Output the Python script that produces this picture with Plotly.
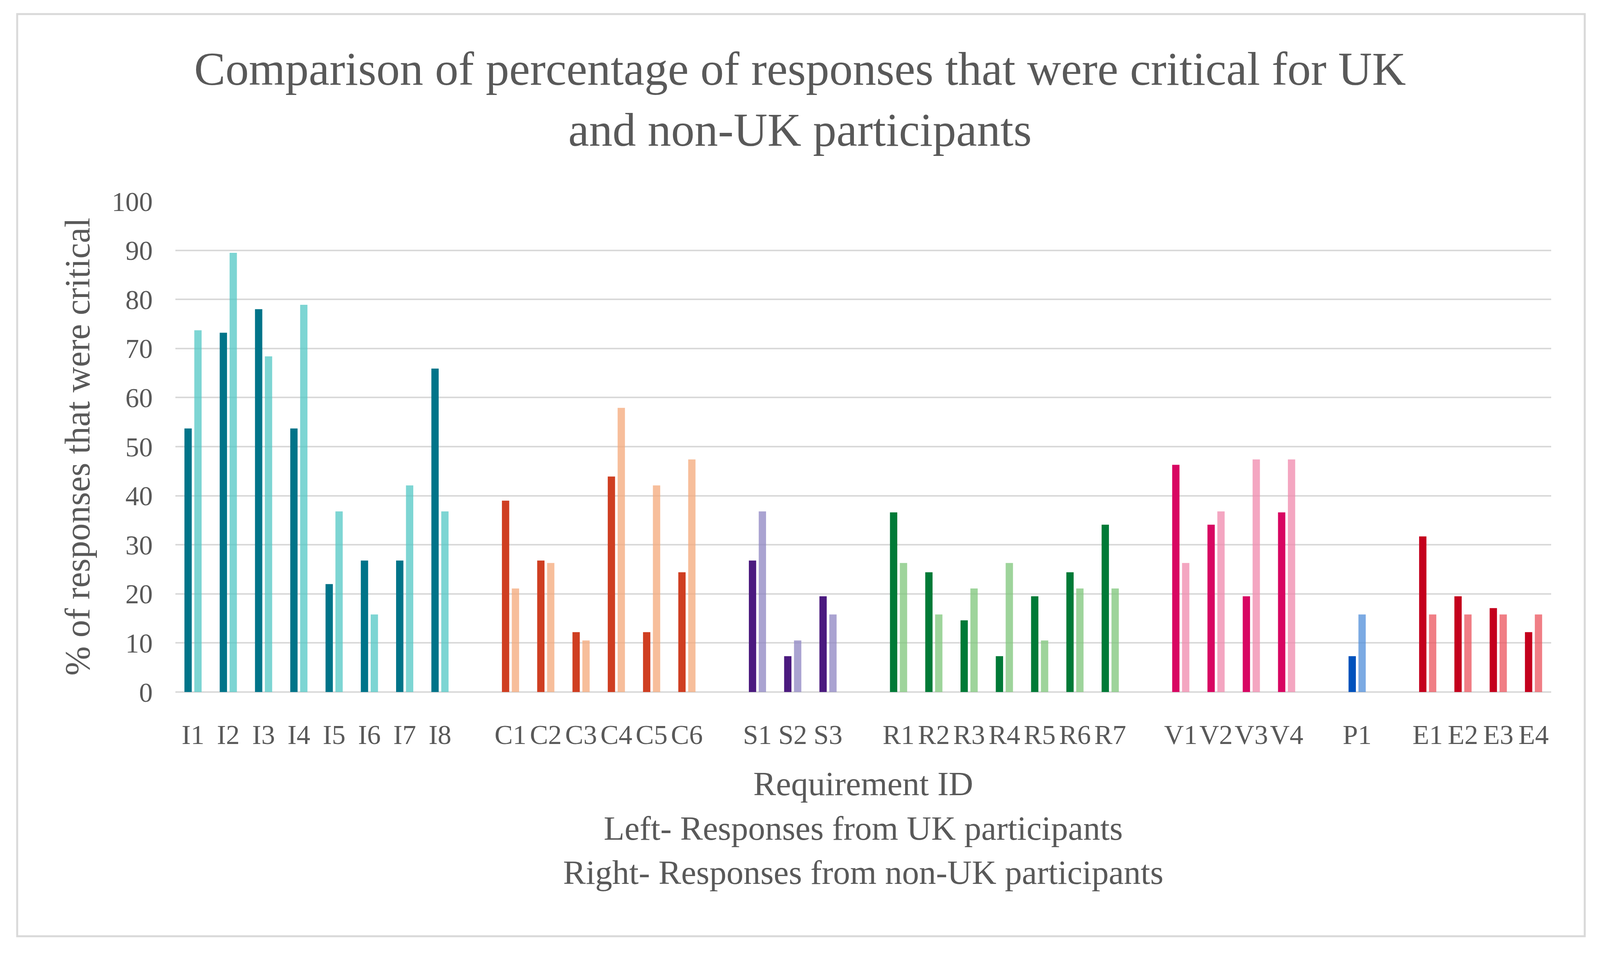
import plotly.graph_objects as go

# ---- data ----
requirement_ids = [
    ["I1", "I2", "I3", "I4", "I5", "I6", "I7", "I8"],
    ["C1", "C2", "C3", "C4", "C5", "C6"],
    ["S1", "S2", "S3"],
    ["R1", "R2", "R3", "R4", "R5", "R6", "R7"],
    ["V1", "V2", "V3", "V4"],
    ["P1"],
    ["E1", "E2", "E3", "E4"],
]
uk_values = [
    [53.7, 73.2, 78.0, 53.7, 22.0, 26.8, 26.8, 65.9],
    [39.0, 26.8, 12.2, 43.9, 12.2, 24.4],
    [26.8, 7.3, 19.5],
    [36.6, 24.4, 14.6, 7.3, 19.5, 24.4, 34.1],
    [46.3, 34.1, 19.5, 36.6],
    [7.3],
    [31.7, 19.5, 17.1, 12.2],
]
non_uk_values = [
    [73.7, 89.5, 68.4, 78.9, 36.8, 15.8, 42.1, 36.8],
    [21.1, 26.3, 10.5, 57.9, 42.1, 47.4],
    [36.8, 10.5, 15.8],
    [26.3, 15.8, 21.1, 26.3, 10.5, 21.1, 21.1],
    [26.3, 36.8, 47.4, 47.4],
    [15.8],
    [15.8, 15.8, 15.8, 15.8],
]
uk_colors = ["#007489", "#CF3E21", "#4B1A7F", "#007A37", "#D80662", "#0052BC", "#C4001D"]
non_uk_colors = [
    "rgba(82,199,196,0.75)", "rgba(244,168,122,0.75)", "rgba(142,132,194,0.75)",
    "rgba(126,198,121,0.75)", "rgba(240,136,172,0.75)", "rgba(79,142,218,0.75)",
    "rgba(235,83,92,0.75)",
]
y_ticks = [0, 10, 20, 30, 40, 50, 60, 70, 80, 90, 100]

# ---- build category axis with a blank slot between groups ----
x_cats, uk_y, non_y, uk_c, non_c = [], [], [], [], []
for g, (ids, u, n) in enumerate(zip(requirement_ids, uk_values, non_uk_values)):
    if g > 0:
        x_cats.append(" " * g)
        uk_y.append(None)
        non_y.append(None)
        uk_c.append(uk_colors[g])
        non_c.append(non_uk_colors[g])
    for rid, a, b in zip(ids, u, n):
        x_cats.append(rid)
        uk_y.append(a)
        non_y.append(b)
        uk_c.append(uk_colors[g])
        non_c.append(non_uk_colors[g])

FONT = "Liberation Serif, serif"
GREY = "#595959"

fig = go.Figure()
fig.add_trace(go.Bar(x=x_cats, y=uk_y, marker=dict(color=uk_c, line=dict(width=0)),
                     name="UK participants"))
fig.add_trace(go.Bar(x=x_cats, y=non_y, marker=dict(color=non_c, line=dict(width=0)),
                     name="non-UK participants"))

fig.update_layout(
    width=4080, height=2428,
    paper_bgcolor="white", plot_bgcolor="white",
    margin=dict(l=441, r=117, t=507, b=665),
    barmode="group", bargap=0.44, bargroupgap=0.26,
    showlegend=False,
    font=dict(family=FONT, color=GREY),
    title=dict(
        text="Comparison of percentage of responses that were critical for UK<br>and non-UK participants",
        x=0.5, xanchor="center", y=0.914, yanchor="middle",
        font=dict(family=FONT, size=120, color=GREY),
    ),
    xaxis=dict(
        type="category", categoryorder="array", categoryarray=x_cats,
        showgrid=False, showline=False, ticks="", zeroline=False,
        tickangle=0,
        tickfont=dict(family=FONT, size=70, color=GREY),
        ticklabelstandoff=62,
        automargin=False,
        title=dict(
            text="Requirement ID<br>Left- Responses from UK participants<br>Right- Responses from non-UK participants",
            font=dict(family=FONT, size=87, color=GREY), standoff=56,
        ),
    ),
    yaxis=dict(
        range=[0, 100], tickvals=y_ticks,
        showgrid=True, gridcolor="#D9D9D9", gridwidth=4,
        zeroline=True, zerolinecolor="#D9D9D9", zerolinewidth=4,
        showline=False, ticks="",
        tickfont=dict(family=FONT, size=70, color=GREY),
        ticklabelstandoff=57,
        automargin=False,
        title=dict(text="% of responses that were critical",
                   font=dict(family=FONT, size=90, color=GREY), standoff=26),
    ),
    shapes=[dict(type="rect", xref="paper", yref="paper",
                 x0=-0.115, x1=1.0244, y0=-0.4976, y1=1.3814,
                 line=dict(color="#D9D9D9", width=5), fillcolor="rgba(0,0,0,0)", layer="below")],
)

fig.write_html("out.html")
